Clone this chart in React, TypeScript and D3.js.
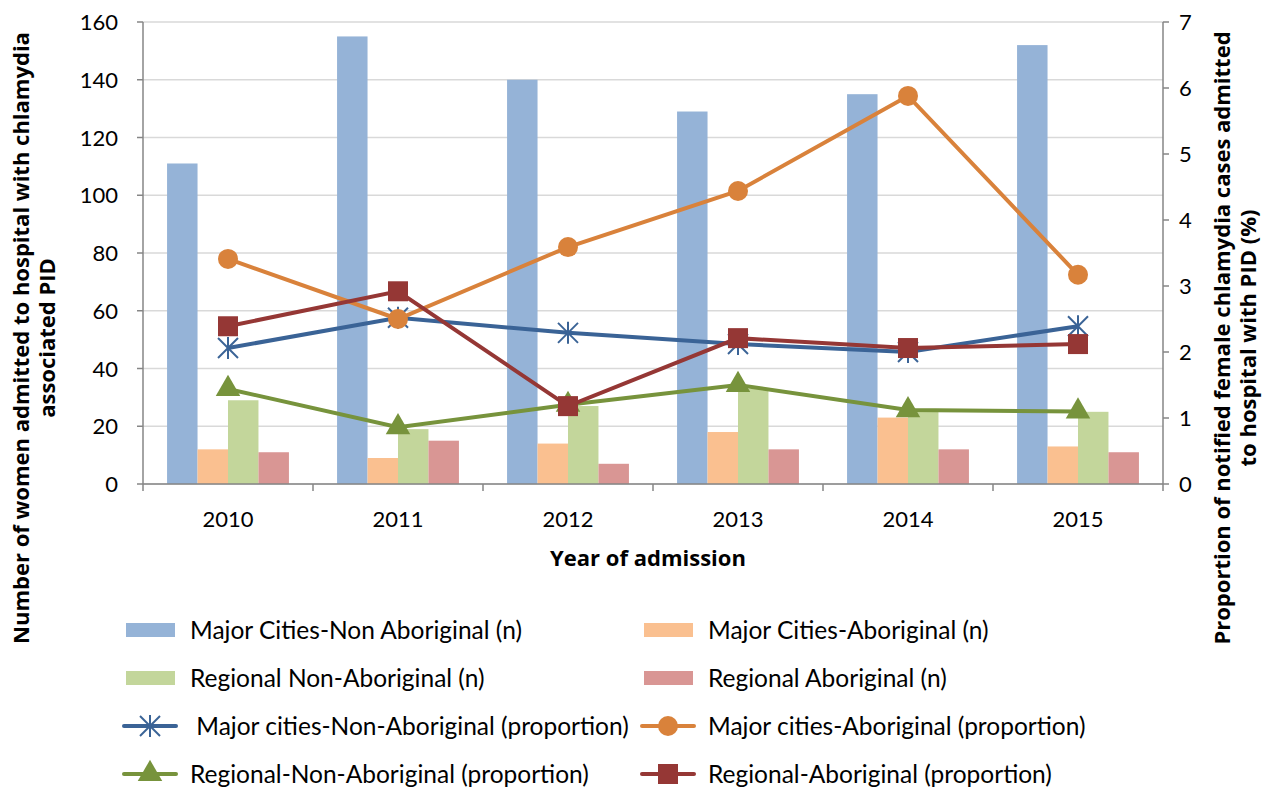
import React from 'react';
import * as d3 from 'd3';

const years = ['2010', '2011', '2012', '2013', '2014', '2015'];

// bar series (n), left axis
const majorNonAbN = [111, 155, 140, 129, 135, 152];
const majorAbN = [12, 9, 14, 18, 23, 13];
const regionalNonAbN = [29, 19, 27, 33, 25, 25];
const regionalAbN = [11, 15, 7, 12, 12, 11];

// line series (proportion %), right axis
const majorNonAbP = [2.06, 2.52, 2.29, 2.12, 2.0, 2.39];
const majorAbP = [3.41, 2.5, 3.59, 4.44, 5.88, 3.17];
const regionalNonAbP = [1.44, 0.86, 1.2, 1.5, 1.12, 1.1];
const regionalAbP = [2.39, 2.92, 1.18, 2.21, 2.06, 2.12];

const leftTicks = [0, 20, 40, 60, 80, 100, 120, 140, 160];
const rightTicks = [0, 1, 2, 3, 4, 5, 6, 7];

const bars = [
  { name: 'Major Cities-Non Aboriginal (n)', values: majorNonAbN, color: '#95B3D7' },
  { name: 'Major Cities-Aboriginal (n)', values: majorAbN, color: '#FAC090' },
  { name: 'Regional Non-Aboriginal (n)', values: regionalNonAbN, color: '#C3D69B' },
  { name: 'Regional Aboriginal (n)', values: regionalAbN, color: '#D99694' },
];

const lines = [
  { name: ' Major cities-Non-Aboriginal (proportion)', values: majorNonAbP, color: '#3A6396', marker: 'star' },
  { name: 'Major cities-Aboriginal (proportion)', values: majorAbP, color: '#D9823B', marker: 'circle' },
  { name: 'Regional-Non-Aboriginal (proportion)', values: regionalNonAbP, color: '#77933C', marker: 'triangle' },
  { name: 'Regional-Aboriginal (proportion)', values: regionalAbP, color: '#953735', marker: 'square' },
];

const font = 'Lato, "Open Sans", sans-serif';
const boldFont = '"Open Sans", Lato, sans-serif';

const Marker = ({ type, x, y, color }) => {
  if (type === 'circle') return <circle cx={x} cy={y} r={10} fill={color} />;
  if (type === 'square') return <rect x={x - 10} y={y - 10} width={20} height={20} fill={color} />;
  if (type === 'triangle') {
    const p = d3.symbol().type(d3.symbolTriangle).size(260)();
    return <path d={p} transform={`translate(${x},${y})`} fill={color} />;
  }
  // star / asterisk
  const r = 10;
  return (
    <g stroke={color} strokeWidth={2}>
      <line x1={x - r} y1={y - r} x2={x + r} y2={y + r} />
      <line x1={x - r} y1={y + r} x2={x + r} y2={y - r} />
      <line x1={x} y1={y - r - 1} x2={x} y2={y + r + 1} />
    </g>
  );
};

const App = () => {
  const width = 1281;
  const height = 791;
  const left = 143;
  const right = 1163;
  const top = 22;
  const bottom = 484;

  const x = d3.scaleBand().domain(years).range([left, right]);
  const inner = d3.scaleBand().domain(bars.map(b => b.name)).range([0, x.bandwidth()]).paddingOuter(0.79).paddingInner(0);
  const yL = d3.scaleLinear().domain([0, 160]).range([bottom, top]);
  const yR = d3.scaleLinear().domain([0, 7]).range([bottom, top]);
  const cx = (d: string) => (x(d) as number) + x.bandwidth() / 2;

  const lineGen = d3.line<number>()
    .x((_, i) => cx(years[i]))
    .y(d => yR(d));

  const legendRows = [630, 678, 726, 774];
  const legendCols = [126, 644];

  return (
    <svg width={width} height={height} style={{ position: 'absolute', left: 0, top: 0, background: '#fff' }} fontFamily={font}>
      {/* gridlines */}
      {leftTicks.map(t => (
        <line key={t} x1={left} x2={right} y1={yL(t)} y2={yL(t)} stroke="#D9D9D9" strokeWidth={1.5} />
      ))}

      {/* bars */}
      {bars.map(b => (
        <g key={b.name}>
          {b.values.map((v, i) => (
            <rect key={i}
              x={(x(years[i]) as number) + (inner(b.name) as number)}
              y={yL(v)}
              width={inner.bandwidth()}
              height={bottom - yL(v)}
              fill={b.color} />
          ))}
        </g>
      ))}

      {/* lines */}
      {lines.map(l => (
        <g key={l.name}>
          <path d={lineGen(l.values) as string} fill="none" stroke={l.color} strokeWidth={4} />
          {l.values.map((v, i) => (
            <Marker key={i} type={l.marker} x={cx(years[i])} y={yR(v)} color={l.color} />
          ))}
        </g>
      ))}

      {/* left axis */}
      <line x1={left} x2={left} y1={top} y2={bottom} stroke="#868686" strokeWidth={1.5} />
      {leftTicks.map(t => (
        <g key={t}>
          <line x1={left - 6} x2={left} y1={yL(t)} y2={yL(t)} stroke="#868686" strokeWidth={1.5} />
          <text x={left - 25} y={yL(t) + 8} textAnchor="end" fontSize={22}>{t}</text>
        </g>
      ))}

      {/* right axis */}
      <line x1={right} x2={right} y1={top} y2={bottom} stroke="#868686" strokeWidth={1.5} />
      {rightTicks.map(t => (
        <g key={t}>
          <line x1={right} x2={right + 6} y1={yR(t)} y2={yR(t)} stroke="#868686" strokeWidth={1.5} />
          <text x={right + 16} y={yR(t) + 8} textAnchor="start" fontSize={22}>{t}</text>
        </g>
      ))}

      {/* x axis */}
      <line x1={left} x2={right} y1={bottom} y2={bottom} stroke="#868686" strokeWidth={1.5} />
      {years.map(yv => (
        <line key={yv} x1={x(yv) as number} x2={x(yv) as number} y1={bottom} y2={bottom + 7} stroke="#868686" strokeWidth={1.5} />
      ))}
      <line x1={right} x2={right} y1={bottom} y2={bottom + 7} stroke="#868686" strokeWidth={1.5} />
      {years.map(yv => (
        <text key={yv} x={cx(yv)} y={527} textAnchor="middle" fontSize={22}>{yv}</text>
      ))}
      <text x={648} y={566} textAnchor="middle" fontSize={22} fontWeight="bold" fontFamily={boldFont}>Year of admission</text>

      {/* axis titles */}
      <text transform="translate(29,338) rotate(-90)" textAnchor="middle" fontSize={22} fontWeight="bold" fontFamily={boldFont}>
        <tspan x={0} y={0}>Number of women admitted to hospital with chlamydia</tspan>
        <tspan x={0} y={26}>associated PID</tspan>
      </text>
      <text transform="translate(1230,338) rotate(-90)" textAnchor="middle" fontSize={22} fontWeight="bold" fontFamily={boldFont}>
        <tspan x={0} y={0}>Proportion of notified female chlamydia cases admitted</tspan>
        <tspan x={0} y={26}>to hospital with PID (%)</tspan>
      </text>

      {/* legend */}
      {bars.map((b, i) => {
        const lx = legendCols[i % 2];
        const ly = legendRows[Math.floor(i / 2)];
        return (
          <g key={b.name}>
            <rect x={lx} y={ly - 7} width={49} height={14} fill={b.color} />
            <text x={lx + 64} y={ly + 9} fontSize={24.5}>{b.name}</text>
          </g>
        );
      })}
      {lines.map((l, i) => {
        const lx = legendCols[i % 2] - 2;
        const ly = legendRows[2 + Math.floor(i / 2)];
        return (
          <g key={l.name}>
            <line x1={lx} x2={lx + 52} y1={ly} y2={ly} stroke={l.color} strokeWidth={4} strokeLinecap="round" />
            <Marker type={l.marker} x={lx + 26} y={ly} color={l.color} />
            <text x={lx + 66} y={ly + 9} fontSize={24.5} style={{ whiteSpace: 'pre' }}>{l.name}</text>
          </g>
        );
      })}
    </svg>
  );
};

export default App;
